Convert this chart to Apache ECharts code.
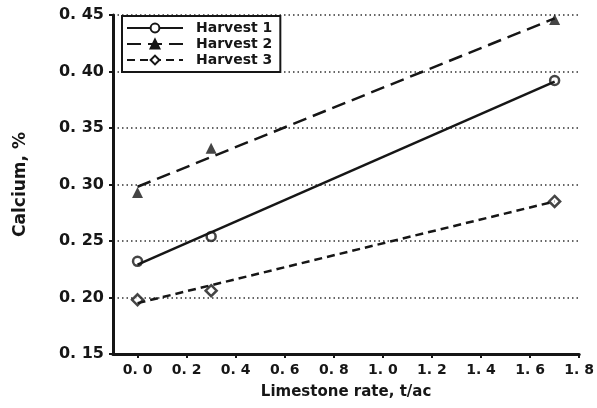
<!DOCTYPE html>
<html>
<head>
<meta charset="utf-8">
<script src="https://cdn.jsdelivr.net/npm/echarts@6/dist/echarts.min.js"></script>
<style>
  html, body { margin: 0; padding: 0; background: #fff; }
  #main { width: 597px; height: 408px; }
</style>
</head>
<body>
<div id="main"></div>
<script>
// limestone rates where samples were taken
var rates = [0, 0.3, 1.7];
// measured calcium, %
var harvest1 = [0.232, 0.254, 0.392];
var harvest2 = [0.293, 0.332, 0.446];
var harvest3 = [0.198, 0.206, 0.285];
// fitted lines, read at both ends (x = 0 and x = 1.7)
var fitEnds = [0, 1.7];
var fit1 = [0.229, 0.391];
var fit2 = [0.298, 0.447];
var fit3 = [0.195, 0.285];
var xTicks = [0, 0.2, 0.4, 0.6, 0.8, 1.0, 1.2, 1.4, 1.6, 1.8];
var names = ['Harvest 1', 'Harvest 2', 'Harvest 3'];

var ink = '#161616';
var font = 'DejaVu Sans';

function pairs(xs, ys) {
  return xs.map(function (x, i) { return [x, ys[i]]; });
}

var myChart = echarts.init(document.getElementById('main'));
var option = {
  animation: false,
  grid: { left: 113, right: 17, top: 15, bottom: 54 },
  legend: {
    data: names,
    orient: 'vertical',
    left: 122,
    top: 16,
    itemWidth: 56,
    itemHeight: 11,
    itemGap: 2,
    padding: [5, 8, 5, 4],
    borderColor: ink,
    borderWidth: 2,
    backgroundColor: '#fff',
    textStyle: { fontFamily: font, fontWeight: 'bold', fontSize: 14, color: ink, padding: [0, 0, 0, 8] }
  },
  xAxis: {
    type: 'value',
    min: -0.1,
    max: 1.8,
    name: 'Limestone rate, t/ac',
    nameLocation: 'middle',
    nameGap: 31,
    nameTextStyle: { fontFamily: font, fontWeight: 'bold', fontSize: 15, color: ink },
    axisLine: { onZero: false, lineStyle: { color: ink, width: 3 } },
    axisTick: { customValues: xTicks, length: 4, lineStyle: { color: ink, width: 2 } },
    axisLabel: {
      customValues: xTicks,
      margin: 9,
      fontFamily: font, fontWeight: 'bold', fontSize: 14, color: ink,
      formatter: function (v) { return v.toFixed(1).replace('.', '. '); }
    },
    splitLine: { show: false }
  },
  yAxis: {
    type: 'value',
    min: 0.15,
    max: 0.45,
    interval: 0.05,
    name: 'Calcium, %',
    nameLocation: 'middle',
    nameGap: 84,
    nameTextStyle: { fontFamily: font, fontWeight: 'bold', fontSize: 17, color: ink },
    axisLine: { show: true, onZero: false, lineStyle: { color: ink, width: 3 } },
    axisTick: { show: true, length: 4, lineStyle: { color: ink, width: 2 } },
    axisLabel: {
      margin: 9,
      fontFamily: font, fontWeight: 'bold', fontSize: 16, color: ink,
      formatter: function (v) { return v.toFixed(2).replace('.', '. '); }
    },
    splitLine: { show: true, lineStyle: { color: '#333', width: 1.5, type: [1.5, 3] } }
  },
  series: [
    {
      name: 'Harvest 1', type: 'line', data: pairs(fitEnds, fit1),
      symbol: 'circle', symbolSize: 8, showSymbol: false,
      lineStyle: { color: ink, width: 2.5, type: 'solid' },
      itemStyle: { color: '#fff', borderColor: ink, borderWidth: 2 }
    },
    {
      name: 'Harvest 2', type: 'line', data: pairs(fitEnds, fit2),
      symbol: 'triangle', symbolSize: 9, showSymbol: false,
      lineStyle: { color: ink, width: 2.5, type: [14, 7] },
      itemStyle: { color: ink, borderColor: ink, borderWidth: 1 }
    },
    {
      name: 'Harvest 3', type: 'line', data: pairs(fitEnds, fit3),
      symbol: 'diamond', symbolSize: 10, showSymbol: false,
      lineStyle: { color: ink, width: 2.5, type: [8, 5] },
      itemStyle: { color: '#fff', borderColor: ink, borderWidth: 2 }
    },
    {
      name: 'Harvest 1', type: 'scatter', data: pairs(rates, harvest1),
      symbol: 'circle', symbolSize: 9,
      itemStyle: { color: '#fff', borderColor: ink, borderWidth: 2.5 }
    },
    {
      name: 'Harvest 2', type: 'scatter', data: pairs(rates, harvest2),
      symbol: 'triangle', symbolSize: 11,
      itemStyle: { color: ink }
    },
    {
      name: 'Harvest 3', type: 'scatter', data: pairs(rates, harvest3),
      symbol: 'diamond', symbolSize: 11,
      itemStyle: { color: '#fff', borderColor: ink, borderWidth: 2.5 }
    }
  ]
};
myChart.setOption(option);
</script>
</body>
</html>
